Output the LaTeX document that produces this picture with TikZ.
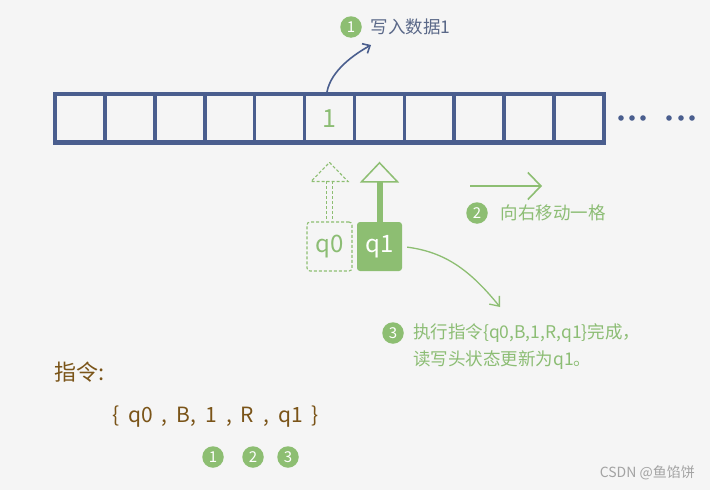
\documentclass[tikz,border=0pt]{standalone}
\usepackage{fontspec}
\setmainfont{Noto Sans CJK SC}
\usepackage{tikz}
\usetikzlibrary{calc,positioning,arrows.meta,math}
\definecolor{tapeblue}{HTML}{4A5E8E}
\definecolor{stepgreen}{HTML}{8DBE72}
\definecolor{textgreen}{HTML}{8CBD74}
\definecolor{notebrown}{HTML}{7A5418}
\definecolor{labelblue}{HTML}{5A6888}
\definecolor{bggray}{HTML}{F5F5F5}
\definecolor{markgray}{HTML}{A3A3A3}

\begin{document}
\begin{tikzpicture}[x=1pt, y=-1pt,
	tape/.style={draw=tapeblue, line width=4.3pt},
	cellline/.style={draw=tapeblue, line width=3.4pt},
	stepnum/.style={circle, fill=stepgreen, text=white, inner sep=0pt, minimum size=21.5pt, font=\fontsize{15}{15}\selectfont},
	steptext/.style={inner sep=0pt, font=\fontsize{17.5}{21}\selectfont},
	headbox/.style={minimum width=45pt, minimum height=49pt, rounded corners=3pt, inner sep=0pt, font=\fontsize{24}{24}\selectfont},
	ghost/.style={draw=stepgreen, dash pattern=on 3pt off 2pt, line width=1.1pt},
	mover/.style={draw=stepgreen, line width=1.6pt},
	note/.style={text=notebrown, inner sep=0pt, anchor=west}
	]
				 %\draw[color=gray,step=10pt, help lines,opacity=0.3] (0,0) grid (710,490); %help grids
				 \fill[bggray, use as bounding box] (0,0) rectangle (710,490);
				\tikzmath{
								\w = 49.85;
								\xl = 55.3;
				};
				 % the tape
				 \coordinate (TL) at (\xl,93.8);
				 \coordinate (BR) at (603.7,142.6);
				 \draw[tape] (TL) rectangle (BR);
				 \draw[cellline] (\xl+\w*1,93.8) -- (\xl+\w*1,142.6);
				 \draw[cellline] (\xl+\w*2,93.8) -- (\xl+\w*2,142.6);
				 \draw[cellline] (\xl+\w*3,93.8) -- (\xl+\w*3,142.6);
				 \draw[cellline] (\xl+\w*4,93.8) -- (\xl+\w*4,142.6);
				 \draw[cellline] (\xl+\w*5,93.8) -- (\xl+\w*5,142.6);
				 \draw[cellline] (\xl+\w*6,93.8) -- (\xl+\w*6,142.6);
				 \draw[cellline] (\xl+\w*7,93.8) -- (\xl+\w*7,142.6);
				 \draw[cellline] (\xl+\w*8,93.8) -- (\xl+\w*8,142.6);
				 \draw[cellline] (\xl+\w*9,93.8) -- (\xl+\w*9,142.6);
				 \draw[cellline] (\xl+\w*10,93.8) -- (\xl+\w*10,142.6);
				 \node[text=textgreen, font=\fontsize{25}{25}\selectfont, inner sep=0pt, minimum width=\w pt, minimum height=48.8pt] (c6) at (\xl+\w*5.5,118.2) {1};
				 \fill[tapeblue] (621,118) circle (2.8pt);
				 \fill[tapeblue] (632,118) circle (2.8pt);
				 \fill[tapeblue] (643,118) circle (2.8pt);
				 \fill[tapeblue] (669,118) circle (2.8pt);
				 \fill[tapeblue] (681,118) circle (2.8pt);
				 \fill[tapeblue] (692,118) circle (2.8pt);
				 % step 1: write
				 \node[stepnum] (s1) at (351,27) {1};
				 \node[steptext, text=labelblue, right=8.5pt of s1] (t1) {写入数据1};
				 \coordinate (a1) at (371,45);
				 \draw[tapeblue, line width=1.6pt, -{Straight Barb[length=6pt,width=11pt]}] ($(c6.north)+(-2.5,-1.5)$) .. controls (331,70) and (355,54) .. (a1);
				 % heads
				 \node[headbox, ghost, text=textgreen] (q0) at (329.5,246.5) {q0};
				 \node[headbox, fill=stepgreen, text=white] (q1) at (379.5,246.5) {q1};
				 \draw[ghost] ($(q0.north)+(0,-59)$) -- ($(q0.north)+(18.5,-40)$) -- ($(q0.north)+(-18.5,-40)$) -- cycle;
				 \draw[ghost] ($(q0.north)+(-3,-40)$) -- ($(q0.north)+(-3,0)$);
				 \draw[ghost] ($(q0.north)+(3,-40)$) -- ($(q0.north)+(3,0)$);
				 \fill[stepgreen] ($(q1.north)+(-3,-40)$) rectangle ($(q1.north)+(3,0)$);
				 \draw[stepgreen, line width=1.5pt, fill=bggray] ($(q1.north)+(0,-59)$) -- ($(q1.north)+(18,-40)$) -- ($(q1.north)+(-18,-40)$) -- cycle;
				 % step 2: move right
				 \coordinate (m0) at (470,186);
				 \coordinate (m1) at (542,186);
				 \draw[mover, -{Straight Barb[length=13pt,width=27pt]}] (m0) -- (m1);
				 \node[stepnum] (s2) at (477,213) {2};
				 \node[steptext, text=textgreen, right=12.5pt of s2] (t2) {向右移动一格};
				 % step 3: new state
				 \coordinate (a3) at (500,307);
				 \draw[mover, line width=1.3pt, shorten <=5pt, -{Straight Barb[length=8pt,width=13pt]}] (q1.east) .. controls (445,252) and (470,270) .. (a3);
				 \node[stepnum] (s3) at (393,333) {3};
				 \node[steptext, text=textgreen, right=9pt of s3] (t3) {执行指令\{q0,B,1,R,q1\}完成，};
				 \node[steptext, text=textgreen, anchor=west] (t4) at ($(t3.west)+(0,27)$) {读写头状态更新为q1。};
				%% Bellow instruction:
				 \node[note, font=\fontsize{22}{22}\selectfont] (ins) at (54,372) {指令:};
				 \node[note, font=\fontsize{21}{21}\selectfont] (tup) at (112,417) {\spaceskip=9pt\relax\{ q0 , B, 1 , R , q1 \}};
				 \node[stepnum] (b1) at (213,457) {1};
				 \node[stepnum] (b2) at (253,457) {2};
				 \node[stepnum] (b3) at (288,457) {3};
				 \node[text=markgray, font=\fontsize{14}{14}\selectfont, inner sep=0pt, anchor=east] (wm) at (695,473) {CSDN @鱼馅饼};
\end{tikzpicture}
\end{document}
